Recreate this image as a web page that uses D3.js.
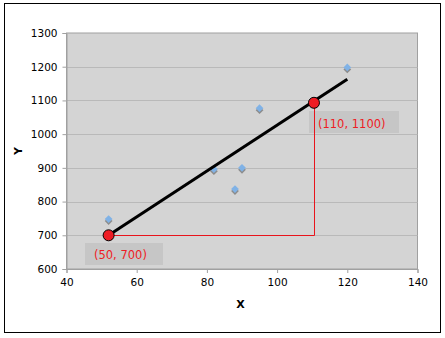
<!DOCTYPE html>
<html>
<head>
<meta charset="utf-8">
<script src="https://cdn.jsdelivr.net/npm/d3@7"></script>
<style>
  body { margin: 0; background: #fff; }
  text { font-family: "DejaVu Sans", Verdana, sans-serif; }
</style>
</head>
<body>
<div id="chart"></div>
<script>
// scatter data
const xValues = [52, 82, 88, 90, 95, 120]
const yValues = [748, 896, 837, 900, 1077, 1198]

// trend line ends
const lineX = [52, 120]
const lineY = [700, 1163]

// the two marked points and their labels
const markX = [52, 110.5]
const markY = [700, 1093]
const markLabels = ["(50, 700)", "(110, 1100)"]

const xTicks = [40, 60, 80, 100, 120, 140]
const yTicks = [600, 700, 800, 900, 1000, 1100, 1200, 1300]

const width = 445, height = 338
const plot = { left: 66.5, top: 33, right: 417.5, bottom: 269 }

const svg = d3.select("#chart").append("svg")
  .attr("width", width)
  .attr("height", height)

// outer frame
svg.append("rect")
  .attr("x", 4.5).attr("y", 3.5)
  .attr("width", 436).attr("height", 329)
  .attr("fill", "#fff")
  .attr("stroke", "#000")
  .attr("stroke-width", 1)

const x = d3.scaleLinear().domain([40, 140]).range([plot.left, plot.right])
const y = d3.scaleLinear().domain([600, 1300]).range([plot.bottom, plot.top])

// plot area
svg.append("rect")
  .attr("x", plot.left).attr("y", plot.top)
  .attr("width", plot.right - plot.left)
  .attr("height", plot.bottom - plot.top)
  .attr("fill", "#d4d4d4")
  .attr("stroke", "#a0a0a0")
  .attr("stroke-width", 1)

// gridlines
svg.append("g")
  .selectAll("line")
  .data(yTicks.slice(1, -1))
  .enter()
  .append("line")
  .attr("x1", plot.left).attr("x2", plot.right)
  .attr("y1", d => Math.round(y(d)) + 0.5)
  .attr("y2", d => Math.round(y(d)) + 0.5)
  .attr("stroke", "#b9b9b9")

// axes
const yAxis = svg.append("g")
  .attr("transform", `translate(${plot.left},0)`)
  .call(d3.axisLeft(y).tickValues(yTicks).tickFormat(d3.format("d")).tickSize(4).tickPadding(5))
const xAxis = svg.append("g")
  .attr("transform", `translate(0,${plot.bottom})`)
  .call(d3.axisBottom(x).tickValues(xTicks).tickFormat(d3.format("d")).tickSize(4).tickPadding(6))

;[xAxis, yAxis].forEach(a => {
  a.select(".domain").attr("stroke", "#a0a0a0")
  a.selectAll(".tick line").attr("stroke", "#a0a0a0")
  a.selectAll("text")
    .attr("fill", "#000")
    .style("font-size", "10.5px")
    .style("font-family", "'DejaVu Sans', Verdana, sans-serif")
})

// axis titles
svg.append("text")
  .attr("x", 240.5).attr("y", 308)
  .attr("text-anchor", "middle")
  .style("font-size", "11px")
  .style("font-weight", "bold")
  .text("X")
svg.append("text")
  .attr("transform", "translate(22,151) rotate(-90)")
  .attr("text-anchor", "middle")
  .style("font-size", "11px")
  .style("font-weight", "bold")
  .text("Y")

// label boxes
const boxes = [
  { x: 85, y: 243, w: 78, h: 22 },
  { x: 309, y: 111, w: 90, h: 22 }
]
svg.append("g")
  .selectAll("rect")
  .data(boxes)
  .enter()
  .append("rect")
  .attr("x", d => d.x).attr("y", d => d.y)
  .attr("width", d => d.w).attr("height", d => d.h)
  .attr("fill", "#c6c6c6")

// red guide lines
svg.append("path")
  .attr("d", `M${x(markX[0])},${Math.round(y(markY[0])) + 0.5}H${Math.round(x(markX[1])) + 0.5}V${y(markY[1])}`)
  .attr("fill", "none")
  .attr("stroke", "#e8141c")
  .attr("stroke-width", 1)

// diamonds (shadow then fill) - a square turned 45 degrees
const diamond = d3.symbol().type(d3.symbolSquare).size(30)
const pts = xValues.map((d, i) => ({ x: d, y: yValues[i] }))
svg.append("g")
  .selectAll("path")
  .data(pts)
  .enter()
  .append("path")
  .attr("d", diamond)
  .attr("transform", d => `translate(${x(d.x)},${y(d.y) + 2}) rotate(45)`)
  .attr("fill", "#8c8c8c")
svg.append("g")
  .selectAll("path")
  .data(pts)
  .enter()
  .append("path")
  .attr("d", diamond)
  .attr("transform", d => `translate(${x(d.x)},${y(d.y)}) rotate(45)`)
  .attr("fill", "#80b2e6")

// trend line
svg.append("line")
  .attr("x1", x(lineX[0])).attr("y1", y(lineY[0]))
  .attr("x2", x(lineX[1])).attr("y2", y(lineY[1]))
  .attr("stroke", "#000")
  .attr("stroke-width", 3)

// marked points
svg.append("g")
  .selectAll("circle")
  .data(markX)
  .enter()
  .append("circle")
  .attr("cx", (d, i) => x(d))
  .attr("cy", (d, i) => y(markY[i]))
  .attr("r", 5.5)
  .attr("fill", "#ee1c24")
  .attr("stroke", "#000")
  .attr("stroke-width", 1)

// point labels
const labelPos = [{ x: 94, y: 259 }, { x: 318, y: 128 }]
svg.append("g")
  .selectAll("text")
  .data(markLabels)
  .enter()
  .append("text")
  .attr("x", (d, i) => labelPos[i].x)
  .attr("y", (d, i) => labelPos[i].y)
  .attr("fill", "#ee1c24")
  .style("font-size", "11.5px")
  .text(d => d)
</script>
</body>
</html>
